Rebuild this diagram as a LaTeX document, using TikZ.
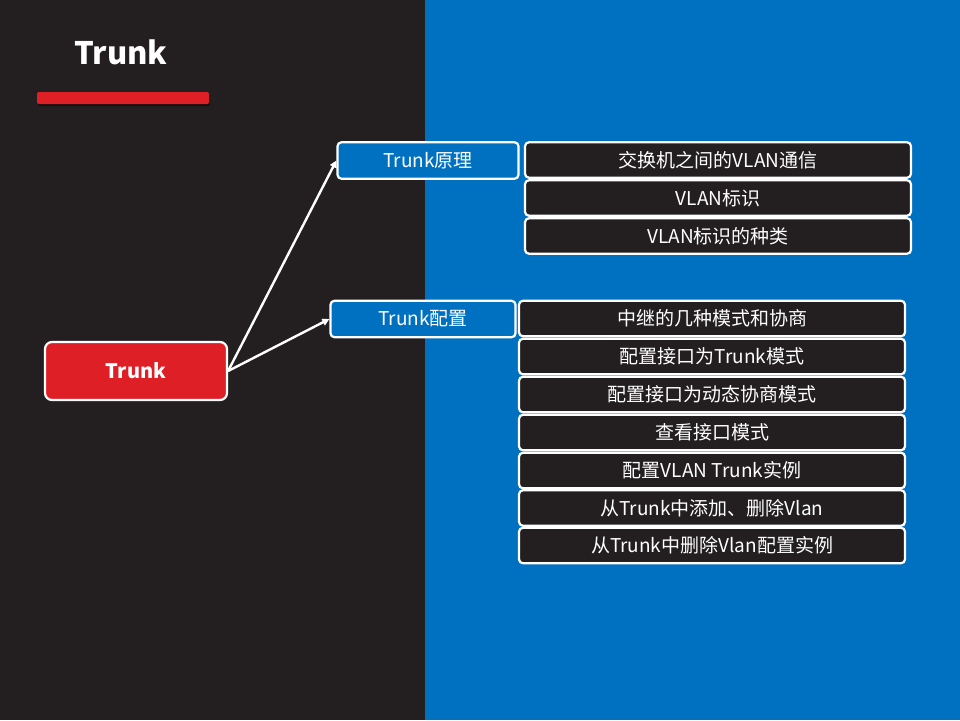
\documentclass[tikz,border=0pt]{standalone}
\usepackage{fontspec}
\setmainfont{Noto Sans CJK SC}
\usetikzlibrary{arrows.meta}
\definecolor{darkbg}{HTML}{231F20}
\definecolor{bluebg}{HTML}{0070C0}
\definecolor{redc}{HTML}{DE1F26}
\tikzset{
  box/.style={draw=white, line width=2.2pt, rounded corners=4pt, text=white, font=\fontsize{19}{22}\selectfont, inner sep=0pt},
  item/.style={box, fill=darkbg, minimum width=386pt, minimum height=35.5pt},
  cat/.style={box, fill=bluebg, minimum height=36.5pt},
  conn/.style={draw=white, line width=2.4pt, -{Triangle[length=7pt,width=7pt]}},
}
\begin{document}
\begin{tikzpicture}[x=1pt,y=-1pt]
\useasboundingbox (0,0) rectangle (960,720);
\fill[darkbg] (0,0) rectangle (425,720);
\fill[bluebg] (425,0) rectangle (960,720);
% title
\node[text=white, font=\fontsize{31}{36}\selectfont\bfseries] (title) at (121,52) {Trunk};
\fill[black, opacity=0.5, rounded corners=2pt] (38,94) rectangle (210,106);
\fill[redc, rounded corners=2pt] (37,92) rectangle (209,104);
% main node
\node[box, fill=redc, minimum width=182pt, minimum height=58pt, rounded corners=7pt, font=\fontsize{20}{24}\selectfont\bfseries] (trunk) at (136,371) {Trunk};
% categories
\node[cat, minimum width=181pt] (yl) at (428,160.5) {Trunk原理};
\node[cat, minimum width=185pt] (pz) at (423,319) {Trunk配置};
% items group 1
\node[item] (a1) at (718,160) {交换机之间的VLAN通信};
\node[item] (a2) at (718,198) {VLAN标识};
\node[item] (a3) at (718,236) {VLAN标识的种类};
% items group 2
\node[item] (b1) at (712,318.5) {中继的几种模式和协商};
\node[item] (b2) at (712,356.5) {配置接口为Trunk模式};
\node[item] (b3) at (712,394.5) {配置接口为动态协商模式};
\node[item] (b4) at (712,432.5) {查看接口模式};
\node[item] (b5) at (712,470.5) {配置VLAN Trunk实例};
\node[item] (b6) at (712,508) {从Trunk中添加、删除Vlan};
\node[item] (b7) at (712,545.5) {从Trunk中删除Vlan配置实例};
% connectors
\draw[conn] (trunk.east) -- (yl.west);
\draw[conn] (trunk.east) -- (pz.west);
\end{tikzpicture}
\end{document}
